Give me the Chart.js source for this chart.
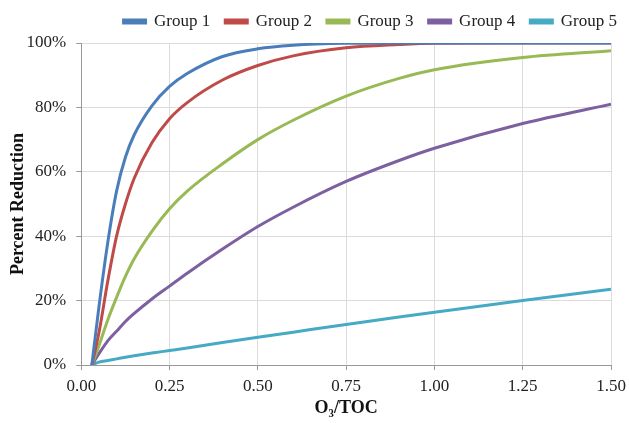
<!DOCTYPE html>
<html>
<head>
<meta charset="utf-8">
<script src="https://cdn.jsdelivr.net/npm/chart.js@4/dist/chart.umd.min.js"></script>
<style>
  html, body { margin: 0; padding: 0; background: #fff; }
  #wrap { width: 629px; height: 423px; }
</style>
</head>
<body>
<div id="wrap"><canvas id="chart"></canvas></div>
<script>
// O3/TOC dose values (x) and percent reduction per group
const xValues = [0.03, 0.05, 0.075, 0.1, 0.125, 0.15, 0.2, 0.25, 0.3, 0.4, 0.5, 0.6, 0.75, 0.9, 1.0, 1.25, 1.5];
const group1 = [0, 18, 38, 54, 64.5, 71.5, 80.5, 86.5, 90.5, 95.8, 98.2, 99.3, 99.9, 100, 100, 100, 100];
const group2 = [0, 10, 26, 40, 50, 58, 69, 76.5, 81.5, 88.5, 93, 96, 98.5, 99.5, 99.9, 100, 100];
const group3 = [0, 6, 14, 21, 27.5, 33, 41.5, 48.5, 54, 62.5, 70, 76, 83.5, 89, 91.7, 95.5, 97.6];
const group4 = [0, 3.5, 7.5, 10.5, 13.5, 16, 20.5, 24.5, 28.5, 36, 43, 49, 57, 63.5, 67.3, 75, 81];
const group5 = [0, 0.9, 1.4, 1.9, 2.4, 2.85, 3.7, 4.5, 5.3, 7, 8.6, 10.2, 12.6, 14.9, 16.4, 20, 23.5];

const seriesNames = ['Group 1', 'Group 2', 'Group 3', 'Group 4', 'Group 5'];
const seriesColors = ['#4A7EBB', '#BE4B48', '#98B954', '#7D60A0', '#46AAC5'];
const seriesValues = [group1, group2, group3, group4, group5];

const serif = "'Liberation Serif', 'Times New Roman', serif";

const datasets = seriesValues.map((vals, i) => ({
    label: seriesNames[i],
    data: vals.map((v, j) => ({x: xValues[j], y: v})),
    borderColor: seriesColors[i],
    backgroundColor: seriesColors[i],
    borderWidth: 3,
    pointRadius: 0,
    cubicInterpolationMode: 'monotone',
    fill: false
}));

// legend in the original sits further right and a bit higher than chart.js puts it
const legendShift = {
    id: 'legendShift',
    afterLayout(chart) {
        const lg = chart.legend;
        lg.left += 21; lg.right += 21;
        lg.top -= 3; lg.bottom -= 3;
    }
};

new Chart(document.getElementById('chart'), {
    type: 'line',
    data: { datasets: datasets },
    plugins: [legendShift],
    options: {
        responsive: true,
        maintainAspectRatio: false,
        animation: false,
        layout: { padding: { left: 4, right: 18, top: 1, bottom: 0 } },
        plugins: {
            legend: {
                position: 'top',
                align: 'end',
                labels: {
                    boxWidth: 22,
                    boxHeight: 3,
                    padding: 15,
                    color: '#222',
                    font: { family: serif, size: 17 }
                }
            },
            tooltip: { enabled: false }
        },
        scales: {
            x: {
                type: 'linear',
                min: 0,
                max: 1.5,
                afterFit: s => { s.paddingRight = 4; },
                ticks: {
                    stepSize: 0.25,
                    padding: 6,
                    color: '#222',
                    font: { family: serif, size: 17 },
                    callback: v => v.toFixed(2)
                },
                grid: { color: '#dcdcdc', tickLength: 5, tickColor: '#999' },
                border: { color: '#999' },
                title: {
                    display: true,
                    text: 'O\u2083/TOC',
                    color: '#111',
                    font: { family: serif, size: 18, weight: 'bold' },
                    padding: { top: -5, bottom: 4 }
                }
            },
            y: {
                min: 0,
                max: 100,
                ticks: {
                    stepSize: 20,
                    padding: 10,
                    color: '#222',
                    font: { family: serif, size: 17 },
                    callback: v => v + '%'
                },
                grid: { color: '#dcdcdc', tickLength: 5, tickColor: '#999' },
                border: { color: '#999' },
                title: {
                    display: true,
                    text: 'Percent Reduction',
                    color: '#111',
                    font: { family: serif, size: 18, weight: 'bold' },
                    padding: { top: 4, bottom: -13 }
                }
            }
        }
    }
});
</script>
</body>
</html>
